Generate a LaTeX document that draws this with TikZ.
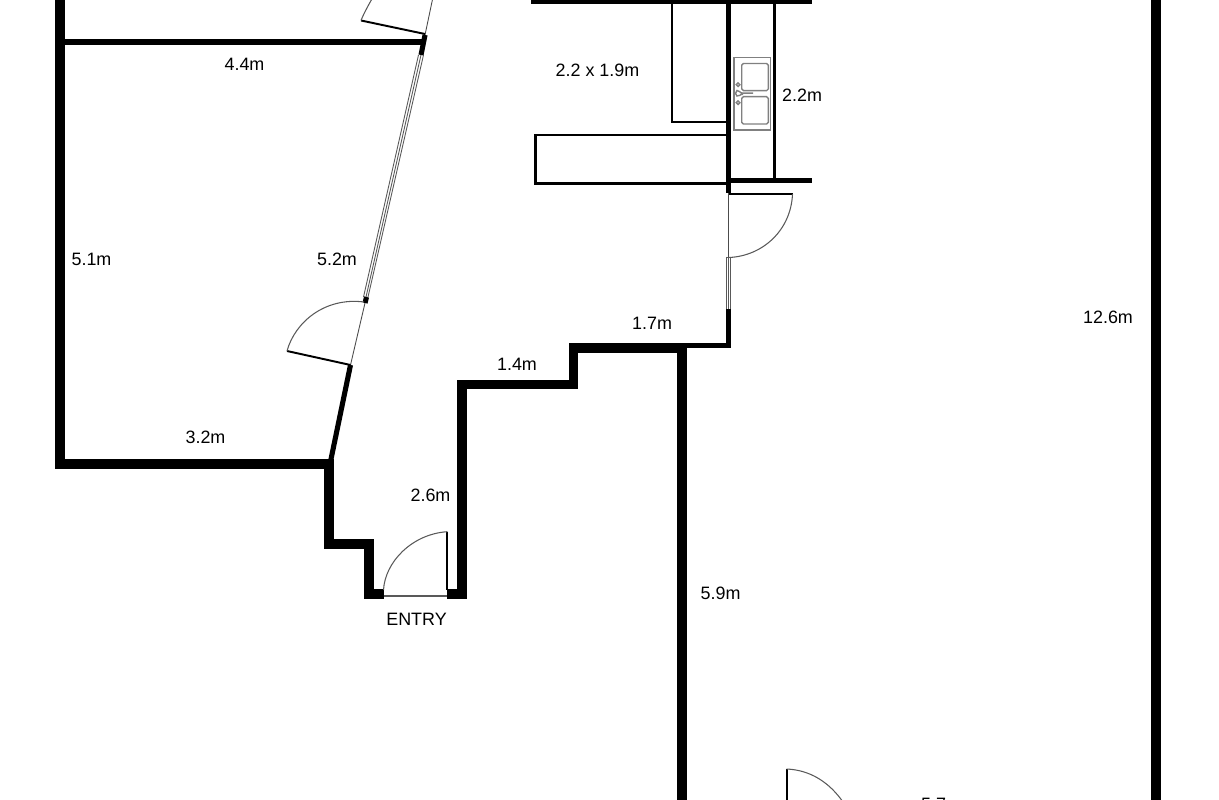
\documentclass[tikz,border=0pt]{standalone}
\usepackage{fontspec}
\setmainfont{Liberation Sans}
\tikzset{
  muro/.style={line width=5.67pt},
  muroF/.style={line width=2.9pt},
  mueble/.style={line width=1.3pt},
  puerta/.style={line width=1.1pt},
  arco/.style={line width=0.6pt,black!65},
  marco/.style={line width=0.5pt,black!70},
  ventana/.style={line width=0.5pt,black!65},
  grifo/.style={line width=0.8pt,black!50},
  medida/.style={font=\fontsize{10.2}{12}\selectfont,inner sep=0pt}
}
\begin{document}
\begin{tikzpicture}[x=0.02cm,y=-0.02cm]
        \useasboundingbox (0,0) rectangle (1219,800);
        \clip (0,0) rectangle (1219,800);
        % Muros exteriores
        \draw[muro] (60,-5) -- (60,464) -- (330,464);
        \draw[muro] (329,459) -- (329,543.7) -- (368.7,543.7) -- (368.7,594) -- (383.5,594);
        \draw[muro] (447.3,594) -- (462,594) -- (462,384.5) -- (573.5,384.5) -- (573.5,348) -- (682,348);
        \draw[muro] (682,343) -- (682,805);
        \draw[muro] (1155.5,-5) -- (1155.5,805);
        % Muros interiores
        \draw[muroF] (680,345.5) -- (728.5,345.5) -- (728.5,309);
        \draw[muroF] (62,42) -- (425,42);
        \draw[muroF] (531,1.5) -- (811.7,1.5);
        \draw[muroF] (728.5,0) -- (728.5,193.5);
        \draw[muroF] (728.5,180.7) -- (811.7,180.7);
        % Pared diagonal
        \draw[muroF] (330,464) -- (350.5,365);
        \draw[muroF] (425,35) -- (421,55);
        \draw[line width=2.9pt] (366.5,297) -- (365,303);
        % Ventanas
        \draw[ventana] (421,55) -- (366,297);
        \draw[ventana] (423.5,55) -- (368,297);
        \draw[ventana] (418.5,55) -- (363.5,297);
        \draw[ventana] (726,257) -- (726,309);
        \draw[ventana] (728.4,257) -- (728.4,309);
        \draw[ventana] (730.8,257) -- (730.8,309);
        \draw[ventana] (726,257) -- (730.8,257);
        % Muebles de cocina
        \draw[mueble] (671.7,0) -- (671.7,121.7) -- (726,121.7);
        \draw[mueble] (774.5,0) -- (774.5,180);
        \draw[mueble] (726,135) -- (535.5,135) -- (535.5,183.5) -- (726,183.5);
        % Fregadero
        \draw[grifo] (734,57.5) rectangle (770.7,130);
        \draw[grifo,rounded corners=1pt] (741.7,63.5) rectangle (768.3,90.7);
        \draw[grifo,rounded corners=1pt] (741.7,96.7) rectangle (768.3,124);
        \draw[grifo] (738,84.7) circle (1.8);
        \draw[grifo] (738,102.7) circle (1.8);
        \draw[grifo] (753,93.2) -- (743,93.2) .. controls (739,93.2) and (740,90) .. (737,90.5) .. controls (735,92.5) and (735,94.5) .. (737,96) .. controls (740,96.5) and (739,94.5) .. (743,94.2);
        % Puerta izquierda
        \draw[marco] (350.5,365) -- (365,303);
        \draw[puerta] (350.5,365) -- (287,351);
        \draw[arco] (287,351) .. controls (295,322) and (325,297) .. (364,302);
        % Puerta superior
        \draw[marco] (425,35) -- (433,-3);
        \draw[puerta] (425,34) -- (361,20.5);
        \draw[arco] (361,20.5) .. controls (364,13) and (368,6) .. (373,-3);
        % Puerta de la cocina
        \draw[marco] (728.4,193) -- (728.4,257);
        \draw[puerta] (729,194) -- (792.7,194);
        \draw[arco] (792.5,194) .. controls (791,230) and (763,256) .. (729,257.5);
        % Puerta de entrada
        \draw[arco] (383.5,596) -- (447.3,596);
        \draw[puerta] (447.3,531.7) -- (447.3,590);
        \draw[arco] (447.3,531.7) .. controls (412,534) and (385,562) .. (383.5,590);
        % Puerta inferior
        \draw[puerta] (786.7,769) -- (786.7,805);
        \draw[arco] (786.7,769) .. controls (810,770) and (829,782) .. (843,802);
        % Medidas
        \node[medida] (m44) at (244.5,64) {4.4m};
        \node[medida] (m22x19) at (597.5,70) {2.2 x 1.9m};
        \node[medida] (m22) at (802,95.5) {2.2m};
        \node[medida] (m51) at (91.5,259) {5.1m};
        \node[medida] (m52) at (337,259) {5.2m};
        \node[medida] (m17) at (652,323) {1.7m};
        \node[medida] (m14) at (517,364) {1.4m};
        \node[medida] (m126) at (1108,317.5) {12.6m};
        \node[medida] (m32) at (205.5,437.5) {3.2m};
        \node[medida] (m26) at (430.5,495) {2.6m};
        \node[medida] (m59) at (720.5,593.5) {5.9m};
        \node[medida] (entrada) at (416.5,619) {ENTRY};
        \node[medida] (m57) at (941,804) {5.7m};
\end{tikzpicture}
\end{document}
